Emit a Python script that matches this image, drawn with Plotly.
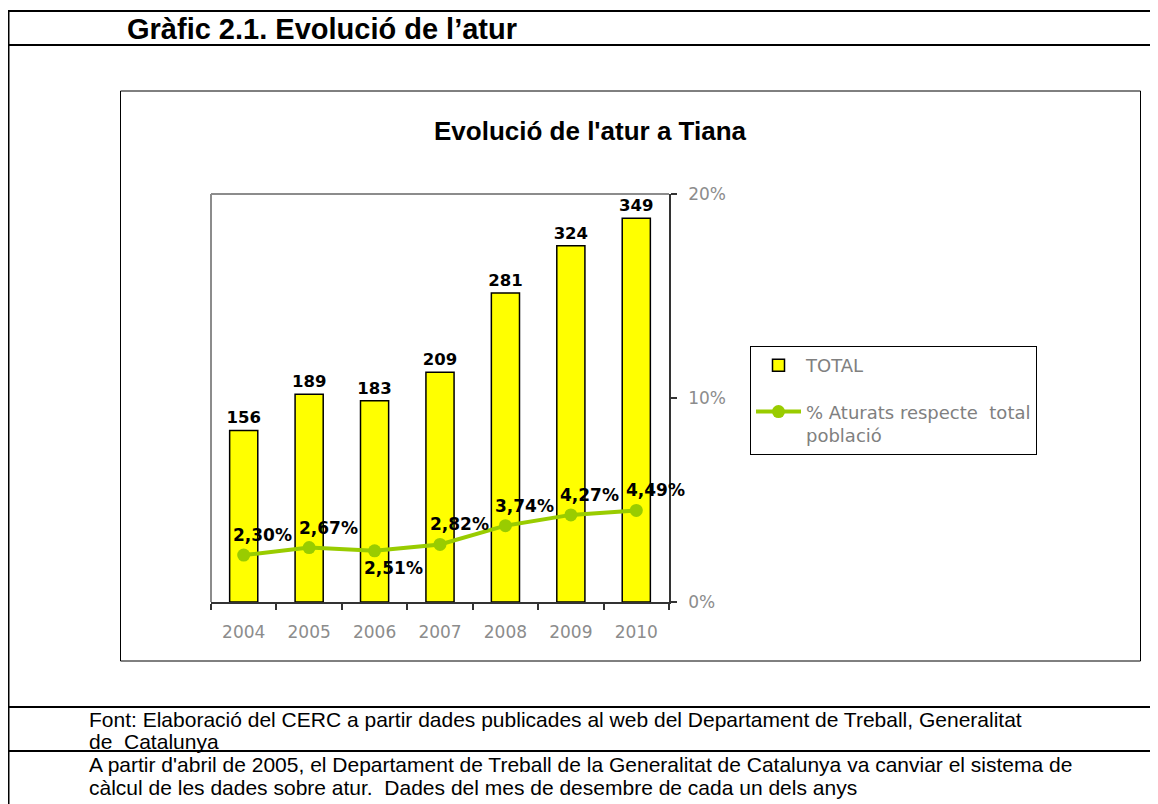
import plotly.graph_objects as go

years = ["2004", "2005", "2006", "2007", "2008", "2009", "2010"]
total_aturats = [156, 189, 183, 209, 281, 324, 349]
pct_aturats = [2.30, 2.67, 2.51, 2.82, 3.74, 4.27, 4.49]

W, H = 1158, 804
OFF = 8  # page body margin of the browser
# plot area in screen pixels
PL, PR, PT, PB = 211, 669, 194, 602


def px_x(px):
    return (px - PL) / (PR - PL)


def px_y(py):
    return (PB - py) / (PB - PT)


fig = go.Figure()

fig.add_trace(
    go.Bar(
        x=years,
        y=total_aturats,
        name="TOTAL",
        marker=dict(color="#FFFF00", line=dict(color="#000000", width=1.5)),
        width=0.43,
        text=total_aturats,
        textposition="outside",
        constraintext="none",
        textfont=dict(family="DejaVu Sans", size=16.5, color="#000000", weight="bold"),
        cliponaxis=False,
        legendgroup="a",
    )
)

fig.add_trace(
    go.Scatter(
        x=years,
        y=[v / 100 for v in pct_aturats],
        name="% Aturats respecte  total<br>població",
        mode="lines+markers",
        line=dict(color="#99CC00", width=4),
        marker=dict(color="#99CC00", size=13),
        yaxis="y2",
        cliponaxis=False,
        legendgroup="b",
    )
)

# percentage labels (x as category index)
for i, (yr, v) in enumerate(zip(years, pct_aturats)):
    below = yr == "2006"
    fig.add_annotation(
        x=i,
        y=v / 100,
        xref="x",
        yref="y2",
        text=f"{v:.2f}%".replace(".", ","),
        showarrow=False,
        xshift=19,
        yshift=-17 if below else 20,
        font=dict(family="DejaVu Sans", size=17, color="#000000", weight="bold"),
    )

line_k = dict(color="#000000", width=2)
shapes = [
    # page frame
    dict(type="line", x0=px_x(7), x1=px_x(1170), y0=px_y(11), y1=px_y(11), line=line_k),
    dict(type="line", x0=px_x(7), x1=px_x(1170), y0=px_y(45), y1=px_y(45), line=line_k),
    dict(type="line", x0=px_x(7), x1=px_x(1170), y0=px_y(707), y1=px_y(707), line=line_k),
    dict(type="line", x0=px_x(7), x1=px_x(1170), y0=px_y(751), y1=px_y(751), line=line_k),
    dict(type="line", x0=px_x(8.5), x1=px_x(8.5), y0=px_y(11), y1=px_y(820), line=line_k),
    # chart frame
    dict(type="rect", x0=px_x(120.5), x1=px_x(1140.5), y0=px_y(91), y1=px_y(661),
         line=dict(color="#000000", width=1)),
    # plot area border (left and top)
    dict(type="line", x0=0, x1=0, y0=0, y1=1, line=dict(color="#8C8C8C", width=2)),
    dict(type="line", x0=0, x1=1, y0=1, y1=1, line=dict(color="#8C8C8C", width=2)),
]
for s in shapes:
    s["xref"] = "paper"
    s["yref"] = "paper"
    s["layer"] = "below" if s["type"] == "rect" else "above"


def note(text, x, y, size, xanchor="left", bold=False):
    fig.add_annotation(
        x=px_x(x), y=px_y(y), xref="paper", yref="paper",
        xanchor=xanchor, yanchor="middle", showarrow=False,
        text=f"<b>{text}</b>" if bold else text,
        font=dict(family="Liberation Sans", size=size, color="#000000"),
    )


note("Gràfic 2.1. Evolució de l’atur", 125, 29, 29, bold=True)
note("Evolució de l'atur a Tiana", 590, 131, 26, xanchor="center", bold=True)
note("Font: Elaboració del CERC a partir dades publicades al web del Departament de Treball, Generalitat", 87, 719, 21)
note("de  Catalunya", 87, 741, 21)
note("A partir d'abril de 2005, el Departament de Treball de la Generalitat de Catalunya va canviar el sistema de", 87, 764, 21)
note("càlcul de les dades sobre atur.  Dades del mes de desembre de cada un dels anys", 87, 787, 21)

fig.update_layout(
    width=W,
    height=H,
    margin=dict(l=PL - OFF, r=W - PR + OFF, t=PT - OFF, b=H - PB + OFF, pad=0),
    paper_bgcolor="#FFFFFF",
    plot_bgcolor="#FFFFFF",
    shapes=shapes,
    showlegend=True,
    legend=dict(
        x=px_x(750), y=px_y(346), xanchor="left", yanchor="top",
        bgcolor="#FFFFFF", bordercolor="#000000", borderwidth=1,
        font=dict(family="DejaVu Sans", size=18, color="#808080"),
        itemwidth=45, tracegroupgap=20, valign="top",
    ),
    xaxis=dict(
        type="category", range=[-0.5, 6.5],
        showline=True, linecolor="#333333", linewidth=1.5,
        ticks="outside", ticklen=6, tickcolor="#333333", tickwidth=1.5,
        tickson="boundaries", tickangle=0,
        tickfont=dict(family="DejaVu Sans", size=17, color="#8C8C8C"),
        ticklabelstandoff=14,
        showgrid=False, zeroline=False, fixedrange=True,
    ),
    yaxis=dict(
        range=[0, 371], visible=False, showgrid=False, zeroline=False, fixedrange=True,
    ),
    yaxis2=dict(
        overlaying="y", side="right", range=[0, 0.2], dtick=0.1, tickformat=".0%",
        showline=True, linecolor="#333333", linewidth=1.5,
        ticks="outside", ticklen=6, tickcolor="#333333", tickwidth=1.5,
        tickfont=dict(family="DejaVu Sans", size=17, color="#8C8C8C"),
        ticklabelstandoff=8,
        showgrid=False, zeroline=False, fixedrange=True,
    ),
)

fig.write_html("out.html")
